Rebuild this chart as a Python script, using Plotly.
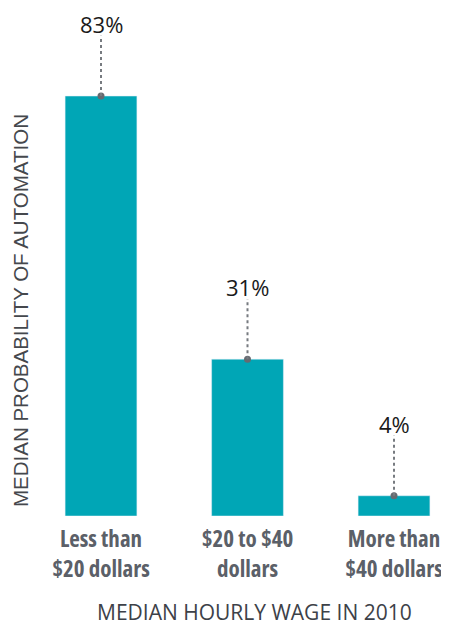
import plotly.graph_objects as go

categories = ["Less than<br>$20 dollars", "$20 to $40<br>dollars", "More than<br>$40 dollars"]
values = [83, 31, 4]
value_labels = ["83%", "31%", "4%"]

BAR_COLOR = "#00A6B6"
LEADER_LEN = 11.9
x_idx = list(range(len(categories)))

SPAN = '<span style="font-stretch:75%">'
tick_text = [SPAN + c.replace("<br>", "</span><br>" + SPAN) + "</span>" for c in categories]

fig = go.Figure()
fig.add_trace(go.Bar(x=x_idx, y=values, marker_color=BAR_COLOR, width=0.49,
                     hoverinfo="skip"))
fig.add_trace(go.Scatter(x=x_idx, y=values, mode="markers",
                         marker=dict(size=7, color="#666a70"), hoverinfo="skip",
                         cliponaxis=False))
for i, v, t in zip(x_idx, values, value_labels):
    fig.add_shape(type="line", x0=i, x1=i, y0=v, y1=v + LEADER_LEN,
                  line=dict(color="#777b80", width=2, dash="dot"), layer="above")
    fig.add_annotation(x=i, y=v + LEADER_LEN, text=t, showarrow=False,
                       yanchor="bottom", yshift=-4, borderpad=0,
                       font=dict(family="Open Sans", size=22, color="#1a1a1a"))

fig.add_annotation(text="MEDIAN PROBABILITY OF AUTOMATION", xref="paper", yref="paper",
                   x=0, y=0.4035, xshift=-16, xanchor="center", yanchor="middle",
                   textangle=-90, showarrow=False,
                   font=dict(family="Liberation Sans, Arial", size=20.5, color="#45484d"))
fig.add_annotation(text="MEDIAN HOURLY WAGE IN 2010", xref="paper", yref="paper",
                   x=0.52, y=-0.189, xanchor="center", yanchor="middle", showarrow=False,
                   borderpad=0,
                   font=dict(family="Open Sans", size=21, color="#3d4148"))

fig.update_layout(
    width=449, height=627,
    margin=dict(l=28, r=0, t=0, b=119),
    plot_bgcolor="white", paper_bgcolor="white",
    showlegend=False,
    xaxis=dict(range=[-0.4437, 2.430], tickvals=x_idx, ticktext=tick_text,
               showgrid=False, zeroline=False, showline=False, ticks="",
               ticklabelstandoff=7, ticklabeloverflow="allow",
               tickfont=dict(family="Open Sans", size=23,
                             color="#5b6068", weight="bold")),
    yaxis=dict(range=[0, 100.4], showgrid=False, zeroline=False, showline=False,
               showticklabels=False, ticks=""),
)
fig.write_html("out.html")
